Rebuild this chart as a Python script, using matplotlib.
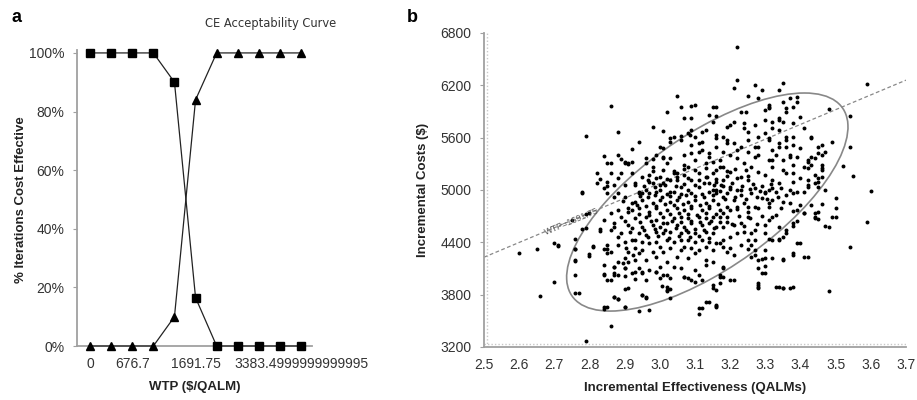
import numpy as np
import matplotlib.pyplot as plt
from matplotlib.patches import Ellipse

plt.rcParams['font.family'] = ['Liberation Sans', 'DejaVu Sans']

# ---- panel a: CE acceptability curve ----
wtp_idx = list(range(11))
wtp_ticks = [0, 2, 5, 10]
wtp_labels = ['0', '676.7', '1691.75', '3383.4999999999995']
pct_control = [100, 100, 100, 100, 90, 16.5, 0, 0, 0, 0, 0]
pct_treat = [0, 0, 0, 0, 10, 84, 100, 100, 100, 100, 100]
pct_ticks = [0, 20, 40, 60, 80, 100]

# ---- panel b: cost-effectiveness plane ----
wtp_line = 1691.75
ell_center = (3.135, 4862)
ell_cov = [[0.16, 345.0], [345.0, 1562500.0]]
cost_ticks = [3200, 3800, 4400, 5000, 5600, 6200, 6800]
eff_ticks = [2.5, 2.6, 2.7, 2.8, 2.9, 3.0, 3.1, 3.2, 3.3, 3.4, 3.5, 3.6, 3.7]

sim_points = [
    # upper part of the cloud
    (3.22, 6643), (3.22, 6261), (3.21, 6165), (3.27, 6204), (3.35, 6231), (3.34, 6146), (3.29, 6146),
    (3.28, 6051), (3.25, 6078), (3.05, 6078), (2.86, 5963), (3.06, 5948), (3.09, 5963), (3.02, 5898),
    (3.07, 5829), (3.09, 5829), (3.15, 5948), (3.59, 6212), (3.48, 5925), (3.54, 5848), (3.54, 5497),
    (3.52, 5279), (3.55, 5164), (3.60, 4988), (3.47, 4999), (3.50, 4904), (2.79, 5623), (2.78, 4973),
    (2.88, 5669), (2.98, 5718), (2.94, 5546), (2.84, 5394), (2.85, 5306), (2.88, 5401), (2.90, 5306),
    (2.82, 5191), (2.85, 5095), (2.82, 5084), (2.85, 4961), (2.92, 5191), (2.96, 5363), (2.98, 5267),
    (3.01, 5382), (3.01, 5478), (3.03, 5592), (3.06, 5623), (3.08, 5650), (3.12, 5669), (3.14, 5860),
    (3.16, 5848), (3.19, 5726), (3.21, 5783), (3.24, 5772), (3.27, 5745), (3.31, 5955), (3.36, 5936),
    (3.37, 6051), (3.39, 6070), (3.40, 5841), (3.38, 5764), (3.34, 5802), (3.45, 5497), (3.46, 5401),
    (3.49, 5554), (3.43, 5611), (3.40, 5478), (3.42, 5344), (3.39, 5382), (3.37, 5401), (3.41, 5267),
    (3.44, 5172), (3.46, 5249), (3.45, 5095), (3.42, 5057), (3.41, 4980), (3.38, 5191), (3.35, 5229),
    (3.32, 5344), (3.34, 5497), (3.36, 5573), (3.31, 5573), (3.28, 5497), (3.27, 5382), (3.25, 5573),
    (3.22, 5459), (3.19, 5535), (3.16, 5497), (3.14, 5382), (3.11, 5440), (3.08, 5267), (3.05, 5191),
    (3.03, 5114), (3.00, 5057), (2.97, 5095), (2.95, 4961), (2.93, 5057), (2.90, 5057), (2.88, 4961),
    (3.35, 6013), (3.39, 6013), (3.38, 5956), (3.31, 5975), (3.31, 5937), (3.30, 5917), (3.36, 5898),
    (3.23, 5898), (3.245, 5890), (3.16, 5956), (3.20, 5745), (3.24, 5707), (3.25, 5669), (3.30, 5803),
    (3.32, 5784), (3.34, 5822), (3.35, 5784), (3.41, 5707), (3.32, 5707), (3.30, 5650), (3.28, 5612),
    (3.31, 5593), (3.34, 5688), (3.36, 5612), (3.38, 5612), (3.38, 5516), (3.36, 5497), (3.34, 5535),
    (3.32, 5459), (3.33, 5401), (3.35, 5344), (3.37, 5382), (3.38, 5287), (3.40, 5134), (3.38, 5096),
    (3.36, 5191), (3.32, 5268), (3.31, 5344), (3.28, 5401), (3.27, 5497), (3.25, 5440), (3.23, 5497),
    (3.21, 5535), (3.19, 5573), (3.18, 5612), (3.16, 5631), (3.18, 5440), (3.20, 5401), (3.22, 5363),
    (3.24, 5306), (3.26, 5268), (3.28, 5210), (3.30, 5172), (3.32, 5115), (3.34, 5076), (3.37, 5000),
    (3.39, 4981), (3.25, 5115), (3.23, 5153), (3.20, 5210), (3.18, 5268), (3.17, 5344), (3.18, 5115),
    (3.20, 5038), (3.22, 5000), (3.27, 5019), (3.30, 4981), (3.32, 5019), (3.16, 5000),
    (3.10, 5975), (3.01, 5680), (2.92, 5466), (2.91, 5306), (2.92, 5325), (3.04, 5612), (3.06, 5573),
    (3.03, 5554), (3.085, 5625), (3.09, 5688), (3.10, 5612), (3.13, 5688), (3.15, 5784), (3.16, 5593),
    (3.12, 5554), (3.09, 5516), (3.11, 5535), (3.00, 5497), (2.99, 5401), (2.98, 5352), (2.96, 5306),
    (3.01, 5363), (3.02, 5306), (3.03, 5363), (3.07, 5401), (3.09, 5420), (3.12, 5459), (3.14, 5420),
    (3.07, 5287), (3.10, 5344), (3.13, 5306), (3.15, 5325), (3.17, 5268), (3.04, 5191), (3.00, 5153),
    (2.97, 5172), (2.95, 5153), (2.93, 5076), (2.98, 5076), (3.01, 5076), (3.05, 5115), (3.07, 5172),
    (3.09, 5115), (3.11, 5191), (3.13, 5153), (3.15, 5191), (3.16, 5096), (3.14, 5076), (3.11, 5038),
    (3.08, 5000), (3.06, 5038), (3.03, 4981), (3.00, 5000), (2.96, 5000), (2.94, 4981), (3.15, 5000),
    (2.86, 5314), (2.89, 5352), (2.90, 5325), (2.91, 5298), (2.86, 5199), (2.89, 5191), (2.83, 5122),
    (2.88, 5134), (2.85, 5046), (2.87, 5057), (2.84, 5019),
    (3.43, 5593), (3.46, 5516), (3.47, 5440), (3.45, 5420), (3.43, 5382), (3.44, 5363), (3.42, 5325),
    (3.43, 5287), (3.46, 5287), (3.42, 5249), (3.46, 5229), (3.46, 5153), (3.45, 5134), (3.42, 5115),
    (3.44, 5076), (3.45, 5038), (3.42, 5038),
    # right side, lower part
    (3.46, 4839), (3.45, 4744), (3.44, 4694), (3.45, 4664), (3.50, 4687), (3.48, 4572), (3.41, 4732),
    # lower part of the cloud
    (2.60, 4274), (2.65, 4323), (2.70, 4396), (2.71, 4369), (2.70, 3949), (2.66, 3788), (2.76, 4434),
    (2.76, 4319), (2.76, 4197), (2.76, 4025), (2.76, 3815), (2.80, 4262), (2.81, 4357), (2.78, 4556),
    (2.79, 4720), (2.83, 4548), (2.84, 4323), (2.85, 4274), (2.84, 4036), (2.85, 3967), (2.87, 3777),
    (2.88, 3746), (2.90, 3654), (2.84, 3662), (2.84, 3635), (2.94, 3616), (2.97, 3624), (2.86, 3440),
    (2.79, 3272), (2.87, 4120), (2.87, 4044), (2.90, 4101), (2.91, 4178), (2.90, 3869), (2.93, 3984),
    (2.95, 4059), (2.95, 3796), (2.96, 3769), (2.99, 4059), (3.01, 4025), (3.03, 3869), (3.02, 3842),
    (3.03, 3758), (3.07, 4006), (3.09, 3967), (3.10, 3948), (3.11, 3643), (3.11, 3578), (3.14, 3719),
    (3.16, 3670), (3.15, 3880), (3.15, 3907), (3.17, 3998), (3.18, 4120), (3.20, 3967), (3.25, 4319),
    (3.28, 3907), (3.28, 3880), (3.29, 4048), (3.30, 4124), (3.29, 4212), (3.27, 4250), (3.31, 4434),
    (3.34, 4434), (3.35, 4201), (3.34, 3888), (3.35, 3876), (3.37, 3880), (3.38, 4274), (3.39, 4388),
    (3.41, 4235), (3.36, 4510), (3.38, 4587), (3.39, 4644), (3.38, 4758), (3.44, 4739), (3.44, 4682),
    (3.47, 4587), (3.49, 4694), (3.54, 4346), (3.59, 4636), (3.48, 3846), (3.43, 4831), (3.50, 4793),
    (2.95, 3796), (2.96, 3758), (3.02, 3853), (3.02, 3892), (3.005, 3900), (3.03, 3987), (3.02, 4025),
    (3.00, 3987), (2.99, 4064), (2.96, 3968), (2.95, 4044), (2.93, 4064), (2.92, 4044), (2.94, 4102),
    (2.97, 4083), (3.00, 4121), (3.02, 4178), (3.04, 4121), (3.06, 4102), (3.07, 3999), (3.08, 3987),
    (3.10, 4083), (3.11, 4025), (3.12, 3968), (3.13, 4140), (3.13, 4197), (3.15, 4178), (3.16, 3853),
    (3.12, 3643), (3.13, 3720), (3.16, 3662),
    # dense core, left half
    (2.93, 4197), (2.96, 4197), (2.99, 4236), (3.05, 4236), (3.08, 4216), (3.10, 4274), (2.91, 4293),
    (2.93, 4331), (2.94, 4274), (2.95, 4312), (2.98, 4293), (3.00, 4350), (3.01, 4293), (3.03, 4331),
    (3.06, 4312), (3.07, 4350), (3.09, 4331), (3.11, 4312), (3.13, 4350), (3.15, 4312), (3.17, 4388),
    (3.14, 4408), (3.12, 4427), (3.10, 4408), (3.08, 4427), (3.06, 4427), (3.04, 4408), (3.02, 4427),
    (2.99, 4408), (2.97, 4388), (2.95, 4408), (2.93, 4427), (2.94, 4503), (2.96, 4484), (2.99, 4522),
    (3.01, 4503), (3.03, 4522), (3.06, 4503), (3.08, 4522), (3.10, 4503), (3.13, 4522), (3.15, 4503),
    (2.92, 4560), (2.95, 4580), (2.98, 4599), (3.00, 4580), (3.02, 4618), (3.05, 4599), (3.07, 4580),
    (3.09, 4618), (3.12, 4599), (3.14, 4618), (3.16, 4580), (2.93, 4675), (2.96, 4694), (2.99, 4656),
    (3.01, 4694), (3.04, 4675), (3.06, 4694), (3.08, 4675), (3.11, 4694), (3.13, 4675), (3.15, 4694),
    (2.92, 4771), (2.94, 4790), (2.97, 4752), (2.99, 4790), (3.02, 4771), (3.05, 4790), (3.07, 4771),
    (3.09, 4790), (3.12, 4771), (3.14, 4790), (3.17, 4771), (2.93, 4866), (2.95, 4885), (2.98, 4847),
    (3.00, 4885), (3.03, 4866), (3.05, 4885), (3.08, 4866), (3.10, 4885), (3.13, 4847), (3.15, 4885),
    (2.94, 4962), (2.97, 4962), (2.99, 4981), (3.02, 4954), (3.04, 4981), (3.06, 4954), (3.09, 4969),
    (3.12, 4954), (3.14, 4981), (3.16, 4962),
    (2.945, 4930), (2.965, 4915), (2.985, 4940), (3.005, 4925), (3.03, 4935), (3.055, 4920),
    (3.075, 4945), (3.10, 4930), (3.125, 4915), (3.15, 4940), (2.935, 4830), (2.96, 4820),
    (2.99, 4815), (3.015, 4835), (3.04, 4825), (3.065, 4840), (3.09, 4820), (3.115, 4830),
    (3.14, 4815), (3.165, 4835), (2.94, 4730), (2.97, 4715), (3.00, 4735), (3.03, 4720),
    (3.055, 4740), (3.08, 4725), (3.105, 4715), (3.13, 4735), (3.16, 4720), (2.945, 4630),
    (2.975, 4645), (3.01, 4625), (3.035, 4650), (3.06, 4635), (3.09, 4645), (3.115, 4630),
    (3.145, 4650), (3.17, 4630), (2.955, 4540), (2.985, 4555), (3.015, 4545), (3.045, 4560),
    (3.075, 4540), (3.10, 4555), (3.125, 4545), (3.155, 4560), (2.965, 4460), (2.995, 4470),
    (3.025, 4455), (3.055, 4475), (3.085, 4460), (3.11, 4470), (3.14, 4455),
    # dense core, right half
    (3.16, 3681), (3.17, 4025), (3.18, 4006), (3.17, 3930), (3.21, 3968), (3.18, 4102), (3.28, 4102),
    (3.30, 4044), (3.28, 3930), (3.28, 3884), (3.33, 3892), (3.35, 3873), (3.38, 3892), (3.26, 4236),
    (3.28, 4197), (3.30, 4216), (3.32, 4216), (3.35, 4205), (3.38, 4255), (3.42, 4236), (3.40, 4388),
    (3.34, 4427), (3.32, 4427), (3.30, 4312), (3.27, 4312), (3.26, 4369), (3.25, 4427), (3.27, 4427),
    (3.23, 4369), (3.20, 4331), (3.21, 4255), (3.19, 4293), (3.18, 4350), (3.16, 4388), (3.18, 4427),
    (3.20, 4465), (3.22, 4503), (3.24, 4522), (3.26, 4503), (3.27, 4541), (3.30, 4503), (3.35, 4465),
    (3.36, 4541), (3.38, 4618), (3.41, 4732), (3.39, 4771), (3.40, 4828), (3.37, 4847), (3.35, 4866),
    (3.32, 4885), (3.31, 4847), (3.29, 4904), (3.27, 4809), (3.25, 4752), (3.25, 4694), (3.23, 4618),
    (3.21, 4599), (3.19, 4637), (3.18, 4580), (3.17, 4694), (3.18, 4732), (3.20, 4771), (3.22, 4809),
    (3.24, 4847), (3.21, 4885), (3.18, 4924), (3.19, 4962), (3.23, 4943), (3.26, 4969), (3.30, 4962),
    (3.33, 4981), (3.36, 4943), (3.38, 4962), (3.33, 4713), (3.31, 4656), (3.34, 4580),
    (3.175, 5060), (3.205, 5075), (3.235, 5050), (3.265, 5065), (3.29, 5045), (3.315, 5070),
    (3.17, 4990), (3.20, 5010), (3.23, 4995), (3.255, 5015), (3.285, 4990), (3.31, 5005),
    (3.345, 5020), (3.185, 4900), (3.215, 4915), (3.245, 4895), (3.275, 4920), (3.305, 4900),
    (3.335, 4915), (3.19, 4800), (3.22, 4780), (3.25, 4805), (3.28, 4790), (3.31, 4810),
    (3.345, 4790), (3.19, 4690), (3.225, 4705), (3.255, 4680), (3.29, 4700), (3.32, 4685),
    (3.205, 4610), (3.24, 4590), (3.275, 4615), (3.30, 4600),
    (2.955, 5050), (2.985, 5035), (3.015, 5060), (3.045, 5045), (3.07, 5070), (3.10, 5055),
    (3.125, 5080), (3.155, 5060), (3.18, 5045), (2.965, 5120), (2.99, 5140), (3.02, 5125),
    (3.05, 5150), (3.08, 5135), (3.11, 5120), (3.135, 5145), (3.16, 5130), (3.19, 5155),
    (3.22, 5140), (3.25, 5160), (2.98, 5220), (3.01, 5230), (3.04, 5215), (3.07, 5240),
    (3.10, 5225), (3.13, 5250), (3.16, 5230), (3.19, 5215), (3.215, 5240), (3.245, 5225),
    # left edge of the ellipse
    (2.78, 4969), (2.71, 4358), (2.76, 4320), (2.76, 4190), (2.77, 3815), (2.80, 4243), (2.81, 4343),
    (2.79, 4560), (2.83, 4534), (2.85, 4369), (2.86, 4293), (2.85, 4320), (2.84, 4140), (2.84, 4025),
    (2.86, 3968), (2.87, 4025), (2.88, 4025), (2.90, 4014), (2.87, 4121), (2.90, 4102), (2.88, 4178),
    (2.90, 4216), (2.87, 3777), (2.88, 3750), (2.91, 3873), (2.85, 3662), (2.90, 3655), (2.86, 4541),
    (2.88, 4465), (2.87, 4618), (2.89, 4503), (2.90, 4408), (2.88, 4369), (2.86, 4732), (2.88, 4771),
    (2.91, 4790), (2.89, 4694), (2.87, 4580), (2.91, 4599), (2.87, 4916), (2.90, 4924), (2.92, 4847),
    (2.80, 4732), (2.75, 4656), (2.84, 4656), (2.895, 4870), (2.91, 4750), (2.90, 4640), (2.915, 4520),
    (2.92, 4430), (2.905, 4330), (2.925, 4250), (2.895, 4160),
]

eff = np.array([p[0] for p in sim_points])
cost = np.array([p[1] for p in sim_points])

axis_grey = '#a0a0a0'
text_grey = '#333333'

fig = plt.figure(figsize=(9.17, 4.0), dpi=100)

# panel a
ax1 = fig.add_axes([77 / 917, 1 - 346 / 400, 235 / 917, 296 / 400])
ax1.plot(wtp_idx, pct_control, color='#222222', lw=0.9, marker='s', ms=5.5,
         mfc='black', mec='black', clip_on=False, zorder=3)
ax1.plot(wtp_idx, pct_treat, color='#222222', lw=0.9, marker='^', ms=5.5,
         mfc='black', mec='black', clip_on=False, zorder=3)
ax1.set_xlim(-0.62, 10.52)
ax1.set_ylim(0, 101)
ax1.set_yticks(pct_ticks)
ax1.set_yticklabels(['%d%%' % v for v in pct_ticks])
ax1.set_xticks(wtp_ticks)
ax1.set_xticklabels(wtp_labels)
for s in ['top', 'right']:
    ax1.spines[s].set_visible(False)
for s in ['left', 'bottom']:
    ax1.spines[s].set_color(axis_grey)
    ax1.spines[s].set_linewidth(1.3)
ax1.tick_params(axis='y', length=3, color=axis_grey, labelcolor=text_grey,
                labelsize=10, pad=6)
ax1.tick_params(axis='x', length=0, labelcolor=text_grey, labelsize=10, pad=8)
ax1.set_xlabel('WTP ($/QALM)', fontsize=9.5, fontweight='bold',
               color='#222222', labelpad=7)
fig.text(21 / 917, 1 - 200 / 400, '% Iterations Cost Effective', rotation=90,
         ha='center', va='center', fontsize=9.5, fontweight='bold', color='#222222')
fig.text(271 / 917, 1 - 24 / 400, 'CE Acceptability Curve', ha='center',
         va='center', fontsize=8.3, color='#333333', family='DejaVu Sans')
fig.text(17 / 917, 1 - 17 / 400, 'a', ha='center', va='center',
         fontsize=13, fontweight='bold')

# panel b
ax2 = fig.add_axes([484 / 917, 1 - 347 / 400, 422 / 917, 314 / 400])
ax2.scatter(eff, cost, s=8, color='black', linewidths=0, zorder=3)
xs = np.array([2.5, 3.7])
ax2.plot(xs, wtp_line * xs, color='#888888', lw=0.9, ls=(0, (3, 2)), zorder=2)
lx = 2.672
ax2.text(lx, wtp_line * lx, 'WTP=1691.75', fontsize=6.5, color='#555555',
         rotation=np.degrees(np.arctan(wtp_line)), transform_rotates_text=True,
         rotation_mode='anchor', ha='left', va='center_baseline', zorder=4)

vals, vecs = np.linalg.eigh(np.array(ell_cov))
ang = np.degrees(np.arctan2(vecs[1, 0], vecs[0, 0]))
ell = Ellipse(ell_center, 2 * np.sqrt(vals[0]), 2 * np.sqrt(vals[1]), angle=ang,
              fill=False, edgecolor='#888888', lw=1.2, zorder=2)
ax2.add_patch(ell)

ax2.set_xlim(2.5, 3.7)
ax2.set_ylim(3200, 6800)
ax2.set_xticks(eff_ticks)
ax2.set_xticklabels(['%.1f' % v for v in eff_ticks])
ax2.set_yticks(cost_ticks)
for s in ['top', 'right']:
    ax2.spines[s].set_visible(False)
for s in ['left', 'bottom']:
    ax2.spines[s].set_color(axis_grey)
    ax2.spines[s].set_linewidth(1.3)
ax2.axvline(2.5085, color='#c8c8c8', lw=1.0, ls=(0, (1, 1.5)), zorder=1)
ax2.axhline(3234, color='#c8c8c8', lw=1.0, ls=(0, (1, 1.5)), zorder=1)
ax2.tick_params(axis='y', length=3, color=axis_grey, labelcolor=text_grey,
                labelsize=10, pad=6)
ax2.tick_params(axis='x', length=0, labelcolor=text_grey, labelsize=10, pad=8)
ax2.set_xlabel('Incremental Effectiveness (QALMs)', fontsize=9.5,
               fontweight='bold', color='#222222', labelpad=7)
ax2.set_ylabel('Incremental Costs ($)', fontsize=9.5, fontweight='bold',
               color='#222222', labelpad=8)
fig.text(412 / 917, 1 - 17 / 400, 'b', ha='center', va='center',
         fontsize=13, fontweight='bold')

fig.savefig('out.png', dpi=100)
plt.close(fig)
